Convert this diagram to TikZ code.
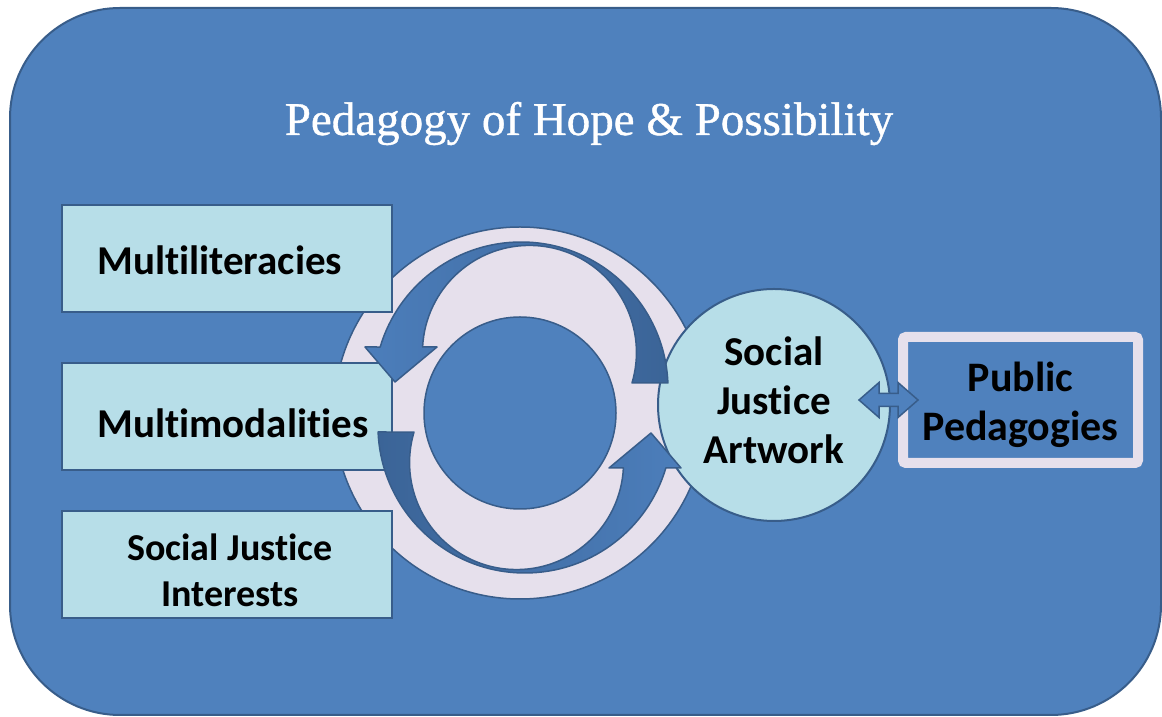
\documentclass[tikz,border=0pt]{standalone}
\usepackage{fontspec}
\setmainfont{Carlito}[Ligatures=NoCommon]
\newfontfamily\titlefont{Liberation Serif}[FakeBold=0.8]
\usetikzlibrary{calc}

\definecolor{bgblue}{HTML}{4F81BD}
\definecolor{edgeblue}{HTML}{385D8A}
\definecolor{aqua}{HTML}{B7DEE8}
\definecolor{lav}{HTML}{E6E0EC}
\definecolor{arrowdark}{HTML}{3B6497}
\definecolor{arrowlight}{HTML}{4C7EBB}

\begin{document}
\begin{tikzpicture}[x=1pt,y=1pt,
  panel/.style={draw=edgeblue, line width=2pt, fill=bgblue, rounded corners=110pt},
  ringband/.style={fill=lav, draw=edgeblue, line width=1.5pt, even odd rule},
  box/.style={draw=edgeblue, line width=2pt, fill=aqua, minimum width=330pt,
    minimum height=107pt, inner sep=0pt},
  hub/.style={circle, draw=edgeblue, line width=2pt, fill=aqua, minimum size=232pt,
    inner sep=0pt},
  outlet/.style={draw=lav, line width=10pt, fill=bgblue, minimum width=235pt,
    minimum height=126pt, rounded corners=3pt, inner sep=0pt},
  label/.style={inner sep=0pt, text=black, align=center,
    font=\bfseries\fontsize{41}{49}\selectfont},
  smalllabel/.style={label, font=\bfseries\fontsize{38}{46}\selectfont},
  cyclearrow/.style={draw=edgeblue, line width=1.5pt, line join=round},
  linkarrow/.style={draw=edgeblue, line width=1.5pt, fill=bgblue, line join=miter}
]
\useasboundingbox (0,0) rectangle (1162,717);

% outer panel
\path[panel] (10,2) rectangle (1161,709);

% title
\node[text=white, anchor=base, inner sep=0pt,
  font=\titlefont\fontsize{47}{56}\selectfont]
  (title) at (589,582) {Pedagogy of Hope \& Possibility};

% ring behind the cycle
\coordinate (rc) at (520,304);
\path[ringband] (rc) circle (186) (rc) circle (96);

% left column of inputs
\node[box] (ml) at (227,458.5) {};
\node[box] (mm) at (227,300.5) {};
\node[box] (sji) at (227,152) {};
\node[label, anchor=west] (mlt) at (97,456.5) {Multiliteracies};
\node[label, anchor=west] (mmt) at (97,293.5) {Multimodalities};
\node[smalllabel] (sjit) at ($(sji.center)+(3,-5)$) {Social Justice\\Interests};

% hub and outlet
\node[hub] (sja) at (774,312) {};
\node[label] (sjat) at ($(sja.center)+(0,5)$) {Social\\Justice\\Artwork};
\node[outlet] (pp) at (1020.5,317) {};
\node[label, font=\bfseries\fontsize{42}{49}\selectfont] (ppt)
  at ($(pp.center)+(0,-5)$) {Public\\Pedagogies};

% upper cycle arrow, tail on the right, head on the left
\path[cyclearrow, left color=arrowlight, right color=arrowdark]
  (667.9,334) arc[start angle=2.34, end angle=163.4, radius=147]
  -- (365,370) -- (395,335) -- (437,370) -- (422.6,370)
  arc[start angle=177.1, end angle=-16.6, radius=107] -- cycle;

% lower cycle arrow, tail on the left, head on the right
\path[cyclearrow, left color=arrowdark, right color=arrowlight]
  (378.1,285) arc[start angle=182.34, end angle=343.4, radius=147]
  -- (681,249) -- (651,284) -- (609,249) -- (623.4,249)
  arc[start angle=357.1, end angle=163.4, radius=107] -- cycle;

% two-way link between hub and outlet
\coordinate (dl) at ($(sja.east)+(-32,5)$);
\coordinate (dr) at ($(pp.west)+(20,0)$);
\path[linkarrow] let \p1=(dl), \p2=(dr) in
  (\x1,\y1) -- (\x1+20,\y1+17.5) -- (\x1+20,\y1+6.5) -- (\x2-20,\y1+6.5)
  -- (\x2-20,\y1+17.5) -- (\x2,\y1) -- (\x2-20,\y1-17.5) -- (\x2-20,\y1-6.5)
  -- (\x1+20,\y1-6.5) -- (\x1+20,\y1-17.5) -- cycle;
\end{tikzpicture}
\end{document}
